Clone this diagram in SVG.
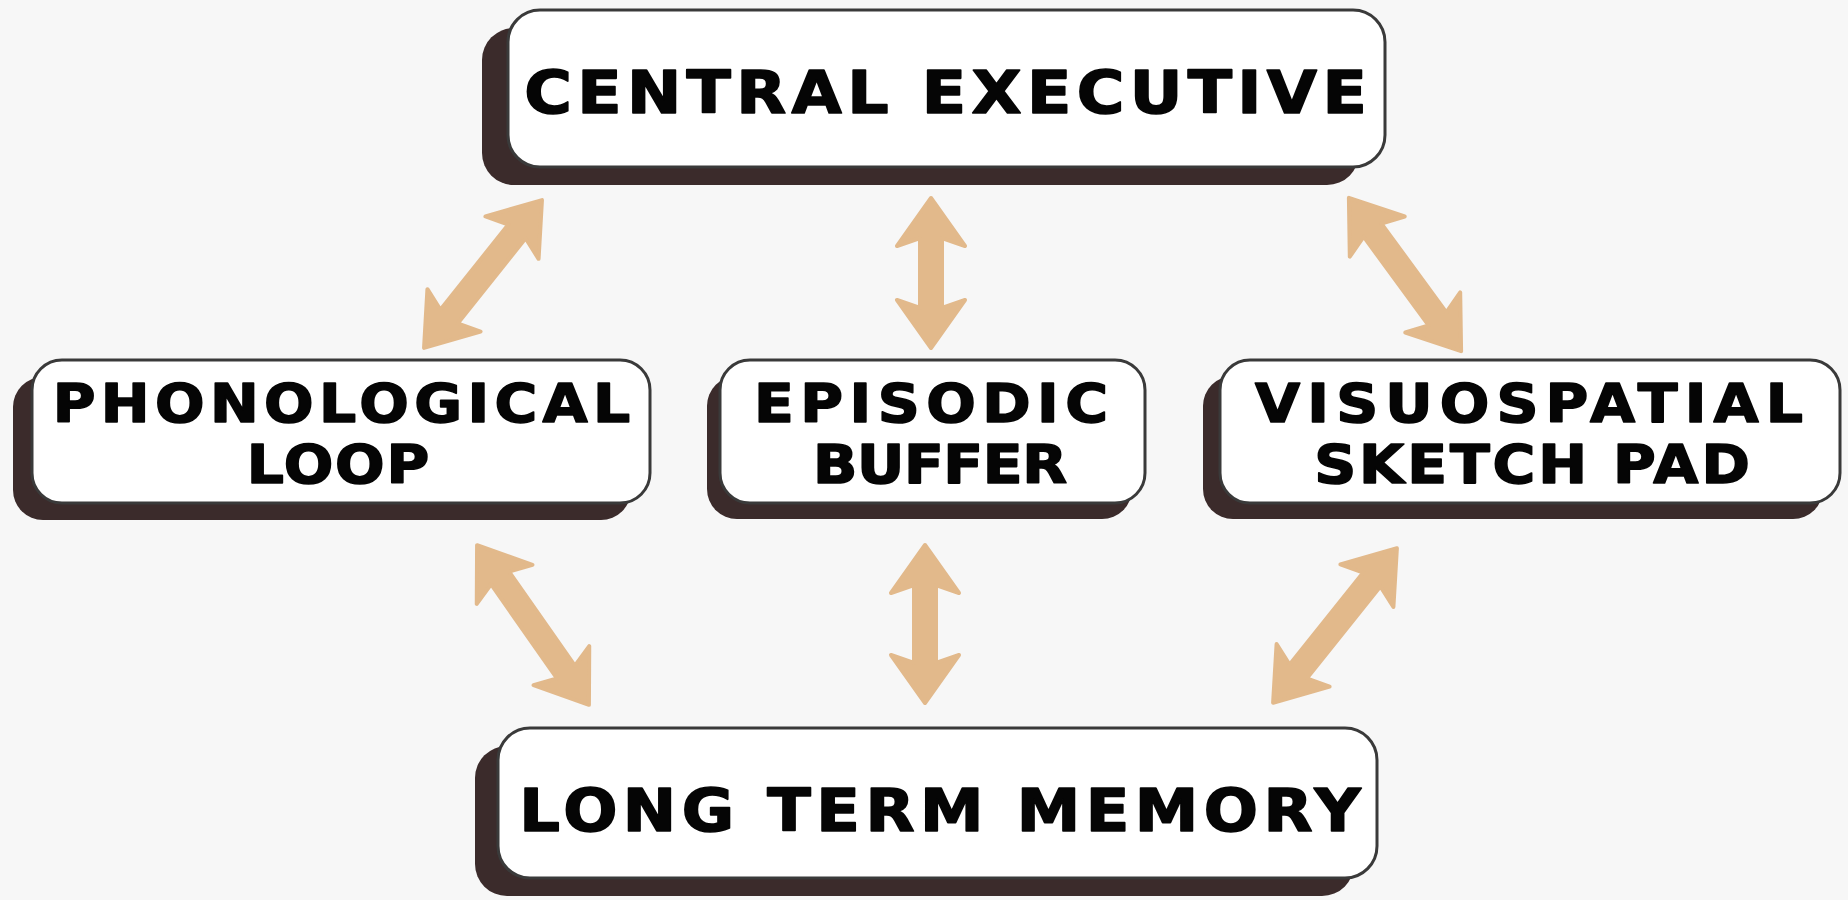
<svg xmlns="http://www.w3.org/2000/svg" width="1848" height="900" viewBox="0 0 1848 900">
<style>
.bg{fill:#f7f7f7}
.sh{fill:#3b2b2b}
.box{fill:#ffffff;stroke:#3a3a3a;stroke-width:3}
.lbl{font-family:"DejaVu Sans","Liberation Sans",sans-serif;font-weight:bold;fill:#050505;stroke:#050505;stroke-width:1.6;stroke-linejoin:round;text-anchor:middle}
.arr{fill:#e2b98b;stroke:#e2b98b;stroke-width:4;stroke-linejoin:round}
</style>
<rect class="bg" x="0" y="0" width="1848" height="900"/>
<g id="connectors">
<path class="arr" transform="translate(483,274) rotate(-51.4)" d="M-94.5,0 L-46.5,-34 L-54.5,-11 L54.5,-11 L46.5,-34 L94.5,0 L46.5,34 L54.5,11 L-54.5,11 L-46.5,34 Z"/>
<path class="arr" transform="translate(931,273) rotate(90)" d="M-75,0 L-27,-34 L-35,-11 L35,-11 L27,-34 L75,0 L27,34 L35,11 L-35,11 L-27,34 Z"/>
<path class="arr" transform="translate(1405,274.5) rotate(53.8)" d="M-95,0 L-47,-34 L-55,-11 L55,-11 L47,-34 L95,0 L47,34 L55,11 L-55,11 L-47,34 Z"/>
<path class="arr" transform="translate(533,625) rotate(55)" d="M-97.5,0 L-49.5,-34 L-57.5,-11 L57.5,-11 L49.5,-34 L97.5,0 L49.5,34 L57.5,11 L-57.5,11 L-49.5,34 Z"/>
<path class="arr" transform="translate(925,624) rotate(90)" d="M-79,0 L-31,-34 L-39,-11 L39,-11 L31,-34 L79,0 L31,34 L39,11 L-39,11 L-31,34 Z"/>
<path class="arr" transform="translate(1335,625.5) rotate(-51.3)" d="M-99,0 L-51,-34 L-59,-11 L59,-11 L51,-34 L99,0 L51,34 L59,11 L-59,11 L-51,34 Z"/>
</g>
<g id="central-executive">
<rect class="sh" x="482" y="28" width="877" height="157" rx="32"/>
<rect class="box" x="508" y="10" width="877" height="157" rx="32"/>
<text class="lbl" transform="translate(945.5,113) scale(1.1,1)" x="0" y="0" font-size="59" textLength="766" lengthAdjust="spacing">CENTRAL EXECUTIVE</text>
</g>
<g id="phonological-loop">
<rect class="sh" x="13" y="377" width="618" height="143" rx="30"/>
<rect class="box" x="32" y="360" width="618" height="143" rx="30"/>
<text class="lbl" transform="translate(341.5,422) scale(1.1,1)" x="0" y="0" font-size="53" textLength="525" lengthAdjust="spacing">PHONOLOGICAL</text>
<text class="lbl" transform="translate(338,483) scale(1.1,1)" x="0" y="0" font-size="53" textLength="166" lengthAdjust="spacing">LOOP</text>
</g>
<g id="episodic-buffer">
<rect class="sh" x="707" y="376" width="425" height="143" rx="30"/>
<rect class="box" x="720" y="360" width="425" height="143" rx="30"/>
<text class="lbl" transform="translate(931,422) scale(1.1,1)" x="0" y="0" font-size="53" textLength="322" lengthAdjust="spacing">EPISODIC</text>
<text class="lbl" transform="translate(940,483) scale(1.1,1)" x="0" y="0" font-size="53" textLength="231" lengthAdjust="spacing">BUFFER</text>
</g>
<g id="visuospatial-sketch-pad">
<rect class="sh" x="1203" y="376" width="620" height="143" rx="30"/>
<rect class="box" x="1220" y="360" width="620" height="143" rx="30"/>
<text class="lbl" transform="translate(1529,422) scale(1.1,1)" x="0" y="0" font-size="53" textLength="498" lengthAdjust="spacing">VISUOSPATIAL</text>
<text class="lbl" transform="translate(1532,483) scale(1.1,1)" x="0" y="0" font-size="53" textLength="396" lengthAdjust="spacing">SKETCH PAD</text>
</g>
<g id="long-term-memory">
<rect class="sh" x="475" y="746" width="879" height="150" rx="32"/>
<rect class="box" x="498" y="728" width="879" height="150" rx="32"/>
<text class="lbl" transform="translate(940,831) scale(1.1,1)" x="0" y="0" font-size="58" textLength="765" lengthAdjust="spacing">LONG TERM MEMORY</text>
</g>
</svg>
